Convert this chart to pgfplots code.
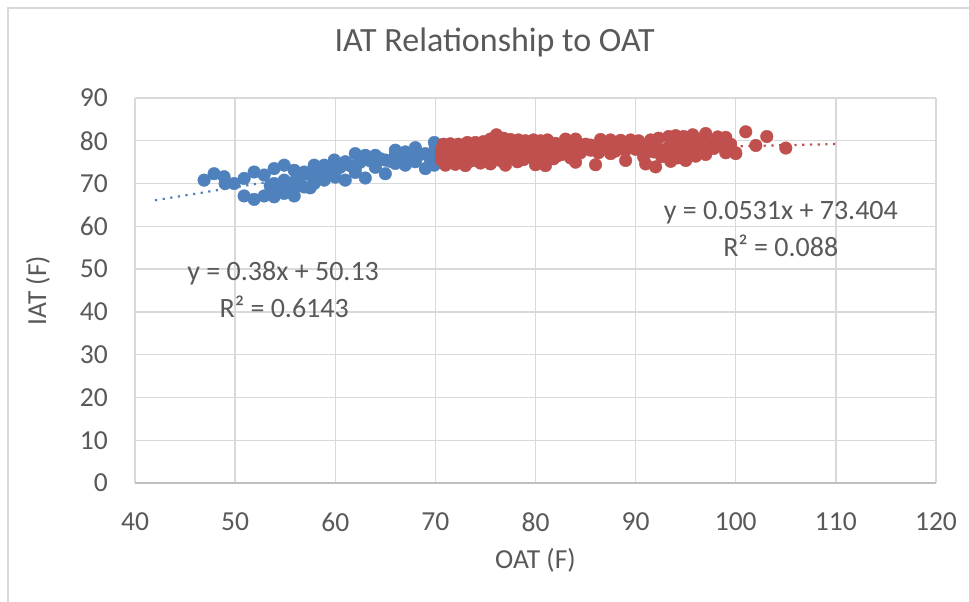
\documentclass[border=0pt]{standalone}
\usepackage{pgfplots}
\pgfplotsset{compat=1.18}
\usepackage{fontspec}
\setmainfont{Carlito}
\definecolor{xlblue}{RGB}{79,129,189}
\definecolor{xlred}{RGB}{192,80,77}
\definecolor{txtgray}{RGB}{89,89,89}
\definecolor{gridgray}{RGB}{217,217,217}
\definecolor{axgray}{RGB}{191,191,191}
\begin{document}
\begin{tikzpicture}
\begin{axis}[
  name=ax, at={(0,0)}, anchor=south west,
  scale only axis, width=801bp, height=385bp,
  xmin=40, xmax=120, ymin=0, ymax=90,
  xtick={40,50,...,120}, ytick={0,10,...,90},
  grid=major, major grid style={color=gridgray, line width=1.3bp},
  axis line style={draw=none},
  major tick length=0pt,
  extra y ticks={0}, extra y tick labels={},
  extra y tick style={major grid style={color=axgray, line width=1.4bp}},
  /pgf/number format/assume math mode=true,
  ticklabel style={font=\fontsize{27.5bp}{33bp}\selectfont, text=txtgray, inner sep=0pt},
  xticklabel style={anchor=center, yshift=-39bp},
  yticklabel style={anchor=east, xshift=-27bp},
  title={IAT Relationship to OAT},
  title style={at={(axis description cs:0.449,1.13)}, anchor=center, font=\fontsize{34bp}{40bp}\selectfont, text=txtgray, inner sep=0pt},
  xlabel={OAT (F)},
  xlabel style={at={(axis description cs:0.5,-0.2)}, anchor=center, font=\fontsize{27.5bp}{33bp}\selectfont, text=txtgray, inner sep=0pt},
  ylabel={IAT (F)},
  ylabel style={at={(axis description cs:-0.1211,0.5)}, anchor=center, font=\fontsize{27.5bp}{33bp}\selectfont, text=txtgray, inner sep=0pt},
  clip=false,
]
% blue series (OAT <= 70)
\addplot[only marks, mark=*, mark size=6.3bp, mark options={fill=xlblue, draw=xlblue}] coordinates {
(46.9,70.8) (47.9,72.3) (48.9,71.6) (49.0,70.0) (49.9,70.0) (50.9,71.2) (50.9,67.1)
(51.9,72.7) (51.9,66.3) (52.9,72.0) (52.9,67.1) (53.9,73.5) (53.9,70.0) (53.9,66.9)
(54.9,74.3) (54.9,70.8) (54.9,67.7) (55.9,73.1) (55.9,67.1) (55.9,70.4) (56.9,72.7)
(56.9,69.2) (57.9,74.3) (57.9,70.0) (57.9,72.0) (58.9,74.3) (58.9,70.8) (59.9,75.5)
(59.9,72.0) (61.0,75.1) (61.0,70.8) (62.0,77.0) (62.0,73.5) (63.0,76.6) (63.0,71.3)
(64.0,76.6) (64.0,74.3) (65.0,75.5) (65.0,72.3) (66.0,77.8) (66.0,74.7) (67.0,77.4)
(67.0,74.3) (68.0,78.4) (68.0,75.1) (69.0,77.0) (69.0,73.5) (69.9,79.6) (69.9,76.6)
(69.9,74.3)
(53.5,69.5) (54.5,69.0) (55.5,69.8) (56.5,71.5) (57.5,72.0) (58.5,72.5) (59.5,73.3)
(60.5,73.8) (61.5,74.2) (62.5,75.0) (63.5,75.3) (64.5,75.8) (65.5,75.2) (66.5,76.2)
(67.5,76.5) (68.5,76.8) (69.5,76.5) (69.5,75.5) (70.0,76.0) (70.0,78.5) (68.0,77.0)
(66.0,76.8) (64.0,73.8) (62.0,72.6) (60.0,71.5) (58.0,71.2) (56.0,69.2) (57.5,69.0)
(70.2,75.2) (70.2,77.5) (70.2,79.0)
};
% red series (OAT > 70)
\addplot[only marks, mark=*, mark size=6.3bp, mark options={fill=xlred, draw=xlred}] coordinates {
(70.8,79.2) (71.5,79.3) (72.3,79.2) (73.2,79.6) (74.0,79.6) (74.8,79.8) (75.5,80.4)
(76.1,81.4) (76.8,80.6) (77.5,80.3) (78.3,80.2) (79.0,80.0) (79.8,80.2) (80.5,80.0)
(81.2,80.2) (82.0,79.4) (83.0,80.4) (84.0,80.4) (85.0,79.2) (86.5,80.3) (87.5,80.2)
(88.5,80.1) (89.5,80.2) (90.3,80.0) (91.5,80.2) (92.3,80.6) (93.3,81.0) (94.0,81.2)
(94.8,81.0) (95.7,81.4) (97.0,81.7) (98.2,80.9) (99.0,80.8) (101.0,82.1) (102.0,78.9)
(103.1,81.0) (105.0,78.3) (100.0,77.0) (98.5,79.0) (96.5,80.3)
(71.0,74.3) (72.0,74.5) (73.0,74.2) (74.5,74.8) (75.5,74.6) (77.0,74.3) (78.2,75.1)
(80.0,74.4) (81.0,74.2) (82.2,76.5) (84.0,75.0) (86.0,74.4) (87.5,77.0) (89.0,75.4)
(91.0,74.6) (92.0,73.9) (93.5,75.2) (95.0,75.4) (96.0,76.4) (97.0,76.8) (99.0,77.2)
(100.0,77.2)
(70.6,75.5) (70.6,76.8) (70.6,78.0) (71.3,76.0) (71.3,77.4) (71.3,78.6)
(72.0,75.2) (72.0,76.5) (72.0,77.8) (72.8,75.8) (72.8,77.0) (72.8,78.4)
(73.6,75.3) (73.6,76.6) (73.6,77.9) (74.3,76.0) (74.3,77.3) (74.3,78.7)
(75.0,75.6) (75.0,77.0) (75.0,78.4) (75.8,76.2) (75.8,77.6) (75.8,79.0)
(76.5,75.4) (76.5,76.8) (76.5,78.2) (77.3,76.0) (77.3,77.5) (77.3,79.0)
(78.0,76.4) (78.0,77.8) (78.8,75.6) (78.8,77.0) (78.8,78.6)
(79.5,76.2) (79.5,77.6) (79.5,79.0) (80.3,75.4) (80.3,77.0) (80.3,78.4)
(81.0,76.3) (81.0,77.8) (81.0,79.2) (81.8,75.8) (81.8,77.4) (81.8,78.6)
(82.6,76.8) (82.6,78.2) (83.5,76.0) (83.5,77.5) (83.5,79.0)
(84.5,77.2) (84.5,78.6) (85.5,77.8) (85.5,79.0) (86.3,77.2) (86.3,78.8)
(87.0,78.2) (88.0,77.6) (88.0,79.0) (89.0,77.8) (89.0,79.2) (90.0,78.0) (90.0,79.2)
(90.8,76.2) (90.8,78.2) (91.8,77.4) (91.8,79.2) (92.6,76.3) (92.6,77.8)
(93.3,76.7) (93.3,78.6) (94.2,76.0) (94.2,77.6) (94.2,79.4) (95.0,77.8) (95.0,79.4)
(95.8,77.5) (95.8,78.8) (96.8,78.3) (96.8,79.6) (97.8,78.2) (97.8,79.5) (99.5,79.2)
};
% linear trend lines (fitted: y = 0.38x + 50.13 and y = 0.0531x + 73.404)
\addplot[xlblue, line width=2.2bp, dash pattern=on 2.2bp off 5.5bp] coordinates {(42,66.09) (70,76.73)};
\addplot[xlred, line width=2.2bp, dash pattern=on 2.2bp off 5.5bp] coordinates {(70.5,77.15) (110,79.24)};
\node[text=txtgray, font=\fontsize{28bp}{34bp}\selectfont, inner sep=0pt] at (axis cs:54.8,49.1) {y = 0.38x + 50.13};
\node[text=txtgray, font=\fontsize{28bp}{34bp}\selectfont, inner sep=0pt] at (axis cs:54.9,41.1) {R² = 0.6143};
\node[text=txtgray, font=\fontsize{28bp}{34bp}\selectfont, inner sep=0pt] at (axis cs:104.5,63.1) {y = 0.0531x + 73.404};
\node[text=txtgray, font=\fontsize{28bp}{34bp}\selectfont, inner sep=0pt] at (axis cs:104.5,55.4) {R² = 0.088};
\end{axis}
\path[use as bounding box] ([shift={(-135bp,-119bp)}]ax.south west) rectangle ([shift={(834bp,483bp)}]ax.south west);
\draw[gridgray, line width=1.5bp] ([shift={(-127bp,-130bp)}]ax.south west) -- ([shift={(-127bp,475bp)}]ax.south west) -- ([shift={(845bp,475bp)}]ax.south west);
\end{tikzpicture}
\end{document}
